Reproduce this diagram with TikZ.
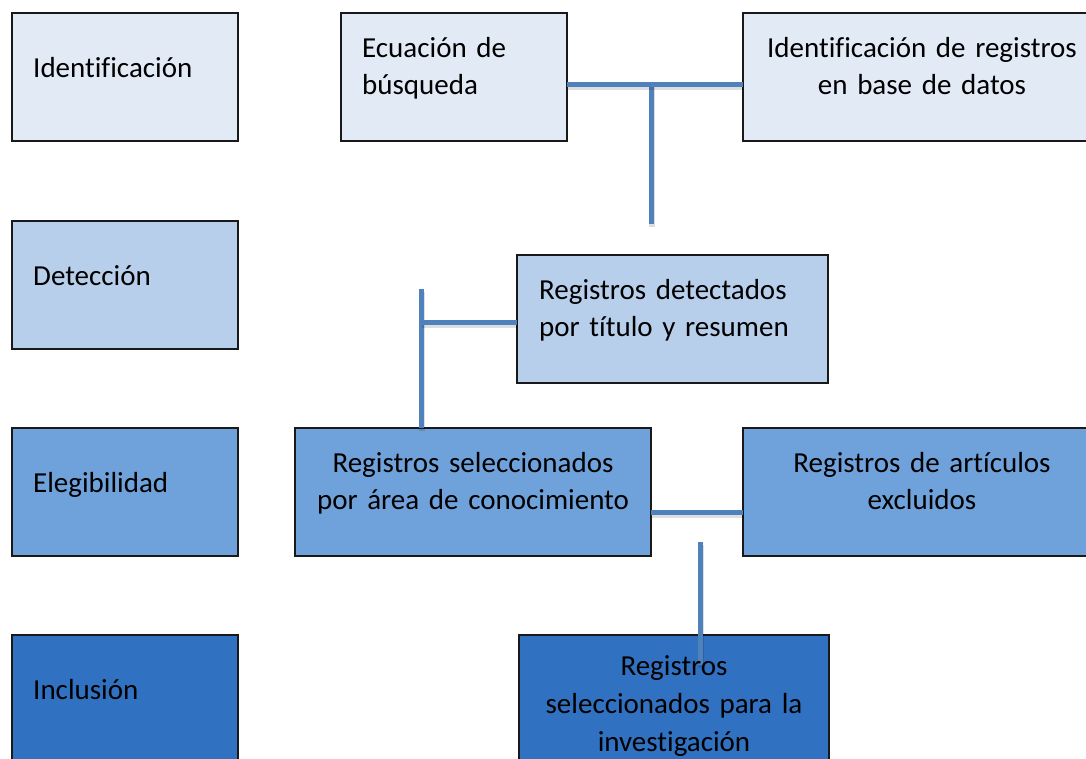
\documentclass[tikz,border=0pt]{standalone}
\usepackage{fontspec}
\setmainfont{Carlito}[Ligatures=NoCommon]
\usetikzlibrary{calc}
\definecolor{fillA}{HTML}{E2EAF6}
\definecolor{fillB}{HTML}{B8CFEC}
\definecolor{fillC}{HTML}{6FA1DB}
\definecolor{fillD}{HTML}{3171C1}
\definecolor{lnblue}{HTML}{4F81BD}
\begin{document}
\begin{tikzpicture}[x=1pt,y=-1pt,
  box/.style={draw=black!90, line width=1.5pt, rectangle, inner sep=0pt, outer sep=0pt, anchor=north west},
  txt/.style={inner sep=0pt, font=\fontsize{29}{37}\selectfont},
  conn/.style={line width=5pt, draw=lnblue,
    preaction={draw=black, opacity=0.13, line width=6pt, transform canvas={xshift=1pt,yshift=-3pt}}}]
\clip (0,0) rectangle (1086,758);
\fill[white] (0,0) rectangle (1086,758);
% left column
\node[box, fill=fillA, minimum width=226pt, minimum height=128pt] (lid) at (12,13) {};
\node[box, fill=fillB, minimum width=226pt, minimum height=128pt] (ldet) at (12,221) {};
\node[box, fill=fillC, minimum width=226pt, minimum height=128pt] (lele) at (12,428) {};
\node[box, fill=fillD, minimum width=226pt, minimum height=128pt] (linc) at (12,635) {};
% content boxes
\node[box, fill=fillA, minimum width=226pt, minimum height=128pt] (ecu) at (341,13) {};
\node[box, fill=fillA, minimum width=358pt, minimum height=128pt] (idr) at (743,13) {};
\node[box, fill=fillB, minimum width=311pt, minimum height=128pt] (det) at (517,255) {};
\node[box, fill=fillC, minimum width=356pt, minimum height=128pt] (sel) at (295,428) {};
\node[box, fill=fillC, minimum width=358pt, minimum height=128pt] (exc) at (743,428) {};
\node[box, fill=fillD, minimum width=310pt, minimum height=128pt] (inv) at (519,635) {};
% connectors
\coordinate (j1) at ($(ecu.east)+(0,7)$);
\coordinate (j1m) at ($(ecu.east)+(84,7)$);
\coordinate (e1) at ($(ecu.east)+(84,147)$);
\draw[conn] (j1m) -- (e1);
\draw[conn] (j1) -- (idr.west |- j1);
\coordinate (j2) at ($(det.west)+(0,3)$);
\coordinate (j2m) at ($(sel.north west)+(126,-106)$);
\coordinate (e2t) at ($(sel.north west)+(126,-139)$);
\coordinate (e2b) at ($(sel.north west)+(126,0)$);
\draw[conn] (e2t) -- (e2b);
\draw[conn] (j2) -- (j2m);
\coordinate (j3) at ($(sel.east)+(0,20)$);
\draw[conn] (j3) -- (exc.west |- j3);
\coordinate (e3t) at ($(inv.north west)+(181,-93)$);
\coordinate (e3b) at ($(inv.north west)+(181,30)$);
\draw[conn] (e3t) -- (e3b);
% texts
\node[txt, anchor=base west] (tid) at ($(lid.north west)+(21,64)$) {Identificación};
\node[txt, anchor=base west] (tdet) at ($(ldet.north west)+(21,64)$) {Detección};
\node[txt, anchor=base west] (tele) at ($(lele.north west)+(21,64)$) {Elegibilidad};
\node[txt, anchor=base west] (tinc) at ($(linc.north west)+(21,64)$) {Inclusión};
\node[txt, anchor=base west, text width=200pt, align=left] (tecu) at ($(ecu.north west)+(21,44)$) {Ecuación de\\búsqueda};
\node[txt, anchor=base, text width=340pt, align=center] (tidr) at ($(idr.north)+(0,44)$) {Identificación de registros\\en base de datos};
\node[txt, anchor=base west, text width=290pt, align=left] (tdetb) at ($(det.north west)+(22,44)$) {Registros detectados\\por título y resumen};
\node[txt, anchor=base, text width=340pt, align=center] (tsel) at ($(sel.north)+(0,44)$) {Registros seleccionados\\por área de conocimiento};
\node[txt, anchor=base, text width=340pt, align=center] (texc) at ($(exc.north)+(0,44)$) {Registros de artículos\\excluidos};
\node[txt, anchor=base, text width=300pt, align=center, font=\fontsize{29}{38}\selectfont] (tinv) at ($(inv.north)+(0,40)$) {Registros\\seleccionados para la\\investigación};
\end{tikzpicture}
\end{document}
